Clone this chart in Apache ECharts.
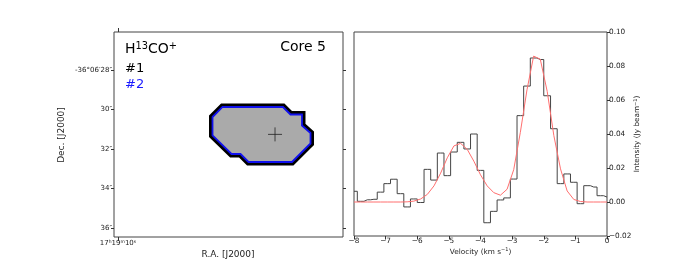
<!DOCTYPE html>
<html><head><meta charset="utf-8">
<script src="https://cdn.jsdelivr.net/npm/echarts@6/dist/echarts.min.js"></script>
<style>html,body{margin:0;padding:0;background:#fff}#c{width:675px;height:270px}</style>
</head><body><div id="c"></div>
<script>
// ---- spectrum (right panel) ----
const velocity = [-8.00,-7.79,-7.58,-7.37,-7.16,-6.95,-6.74,-6.53,-6.32,-6.11,-5.89,-5.68,-5.47,-5.26,-5.05,-4.84,-4.63,-4.42,-4.21,-4.00,-3.79,-3.58,-3.37,-3.16,-2.95,-2.74,-2.53,-2.32,-2.11,-1.89,-1.68,-1.47,-1.26,-1.05,-0.84,-0.63,-0.42,-0.21,0.00];
const intensity = [0.0063,0.0004,0.0013,0.0016,0.0058,0.0108,0.0134,0.0049,-0.0029,0.0018,-0.0003,0.0192,0.0129,0.0288,0.0155,0.0294,0.0351,0.0312,0.0400,0.0186,-0.0122,-0.0055,0.0012,0.0024,0.0135,0.0508,0.0682,0.0847,0.0838,0.0625,0.0431,0.0108,0.0165,0.0116,-0.0010,0.0096,0.0088,0.0037,0.0029];
const fitCurve = [0,0,0,0,0,0,0,0,0.0001,0.0005,0.0018,0.0045,0.0095,0.0170,0.0260,0.0330,0.0345,0.0310,0.0240,0.0160,0.0095,0.0055,0.0040,0.0075,0.0190,0.0410,0.0660,0.0858,0.0840,0.0650,0.0390,0.0195,0.0065,0.0015,0.0003,0,0,0,0];

// ---- map (left panel): RA offset (arcsec), Dec seconds ----
const decTickValues = [28,30,32,34,36];
const decTickLabels = ['-36°06′28″','30″','32″','34″','36″'];
const raTickValues = [0];
const regionRa  = [4.785,5.291,8.354,8.734,9.316,9.316,9.747,9.747,8.810,6.608,6.203,5.747,4.785];
const regionDec = [30.380,29.873,29.873,30.253,30.253,30.810,31.190,31.722,32.658,32.658,32.253,32.253,31.316];
const corePosition = [7.95,31.26];

const FONT = 'DejaVu Sans';
const chart = echarts.init(document.getElementById('c'), null, {renderer:'canvas'});

const tickStyle = {lineStyle:{color:'#333',width:1}};
const noLine = {show:false, onZero:false};

chart.setOption({
  animation:false,
  backgroundColor:'#fff',
  grid:[
    {left:114, top:32, width:229, height:205, show:true, borderColor:'#444', borderWidth:1, containLabel:false},
    {left:354, top:32, width:253, height:204, show:true, borderColor:'#444', borderWidth:1, containLabel:false}
  ],
  xAxis:[
    {gridIndex:0, type:'value', min:-0.2025, max:11.392, position:'bottom',
     axisLine:noLine, splitLine:{show:false},
     axisTick:{show:true, customValues:raTickValues, length:4, ...tickStyle},
     axisLabel:{show:true, customValues:raTickValues, margin:2, fontFamily:FONT, fontSize:7, color:'#222',
       formatter:()=> '{n|17}{s|h}{n|19}{s|m}{n|10}{s|s}',
       rich:{n:{fontFamily:FONT,fontSize:7,color:'#222'}, s:{fontFamily:FONT,fontSize:4.5,color:'#222',padding:[0,0,3,0]}}}},
    {gridIndex:0, type:'value', min:-0.2025, max:11.392, position:'top',
     axisLine:noLine, splitLine:{show:false},
     axisTick:{show:true, customValues:raTickValues, length:4, ...tickStyle},
     axisLabel:{show:false}},
    {gridIndex:1, type:'value', min:-8, max:0, interval:1, position:'bottom',
     axisLine:noLine, splitLine:{show:false},
     axisTick:{show:true, length:3.5, ...tickStyle},
     axisLabel:{margin:2, fontFamily:FONT, fontSize:7.3, color:'#222',
       formatter:v=> (v<0?'\u2212'+Math.abs(v):String(v))}}
  ],
  yAxis:[
    {gridIndex:0, type:'value', inverse:true, min:26.076, max:36.456, position:'left',
     axisLine:noLine, splitLine:{show:false},
     axisTick:{show:true, customValues:decTickValues, length:3, ...tickStyle},
     axisLabel:{show:true, customValues:decTickValues, margin:2, fontFamily:FONT, fontSize:7, color:'#222',
       formatter:v=> decTickLabels[decTickValues.indexOf(Math.round(v))] || ''}},
    {gridIndex:0, type:'value', inverse:true, min:26.076, max:36.456, position:'right',
     axisLine:noLine, splitLine:{show:false},
     axisTick:{show:true, customValues:decTickValues, length:3, ...tickStyle},
     axisLabel:{show:false}},
    {gridIndex:1, type:'value', min:-0.02, max:0.10, interval:0.02, position:'right',
     axisLine:noLine, splitLine:{show:false},
     axisTick:{show:true, length:3, ...tickStyle},
     axisLabel:{margin:2, fontFamily:FONT, fontSize:7.3, color:'#222',
       formatter:v=>{const s=Math.abs(v).toFixed(2); return v< -1e-9 ? '\u2212'+s : s;}}}
  ],
  series:[
    {type:'custom', xAxisIndex:0, yAxisIndex:0, clip:false, data:[0], silent:true,
     renderItem:(params, api)=>{
       const pts = regionRa.map((r,i)=>api.coord([r, regionDec[i]]));
       const c = api.coord(corePosition);
       return {type:'group', children:[
         {type:'polygon', shape:{points:pts}, style:{fill:'none', stroke:'#000', lineWidth:7, lineJoin:'miter'}},
         {type:'polygon', shape:{points:pts}, style:{fill:'#aaaaaa', stroke:'none'}},
         {type:'polygon', shape:{points:pts}, style:{fill:'none', stroke:'#1010ee', lineWidth:1.8, lineJoin:'miter'}},
         {type:'line', shape:{x1:c[0]-7, y1:c[1], x2:c[0]+7, y2:c[1]}, style:{stroke:'#222', lineWidth:0.8}},
         {type:'line', shape:{x1:c[0], y1:c[1]-7, x2:c[0], y2:c[1]+7}, style:{stroke:'#222', lineWidth:0.8}}
       ]};
     }},
    {type:'line', xAxisIndex:2, yAxisIndex:2, step:'middle', symbol:'none',
     data: velocity.map((v,i)=>[v, intensity[i]]),
     lineStyle:{color:'#444', width:1}},
    {type:'line', xAxisIndex:2, yAxisIndex:2, symbol:'none', smooth:false,
     data: velocity.map((v,i)=>[v, fitCurve[i]]),
     lineStyle:{color:'#ff6f6f', width:1}}
  ],
  graphic:[
    {type:'text', left:125, top:41, style:{text:'{b|H}{u|13}{b|CO}{u|+}', fill:'#000',
      rich:{b:{fontFamily:FONT,fontSize:14,fill:'#000'}, u:{fontFamily:FONT,fontSize:9.8,fill:'#000',padding:[0,0,6,0]}}}},
    {type:'text', x:326, y:47.7, style:{text:'Core 5', fontFamily:FONT, fontSize:14, fill:'#000', align:'right', verticalAlign:'middle'}},
    {type:'text', x:125, y:68.7, style:{text:'#1', fontFamily:FONT, fontSize:13, fill:'#000', verticalAlign:'middle'}},
    {type:'text', x:125, y:84.2, style:{text:'#2', fontFamily:FONT, fontSize:13, fill:'#1a1aff', verticalAlign:'middle'}},
    {type:'text', x:62, y:135, rotation:Math.PI/2, style:{text:'Dec. [J2000]', fontFamily:FONT, fontSize:9, fill:'#222', align:'center', verticalAlign:'middle'}},
    {type:'text', x:228, y:255, style:{text:'R.A. [J2000]', fontFamily:FONT, fontSize:9, fill:'#222', align:'center', verticalAlign:'middle'}},
    {type:'text', x:480.5, y:252, style:{text:'{n|Velocity (km s}{s|\u22121}{n|)}', align:'center', verticalAlign:'middle',
      rich:{n:{fontFamily:FONT,fontSize:7.3,fill:'#222'}, s:{fontFamily:FONT,fontSize:5,fill:'#222',padding:[0,0,4,0]}}}},
    {type:'text', x:637.5, y:134, rotation:Math.PI/2, style:{text:'{n|Intensity (Jy beam}{s|\u22121}{n|)}', align:'center', verticalAlign:'middle',
      rich:{n:{fontFamily:FONT,fontSize:7.3,fill:'#222'}, s:{fontFamily:FONT,fontSize:5,fill:'#222',padding:[0,0,4,0]}}}}
  ]
});
</script></body></html>
